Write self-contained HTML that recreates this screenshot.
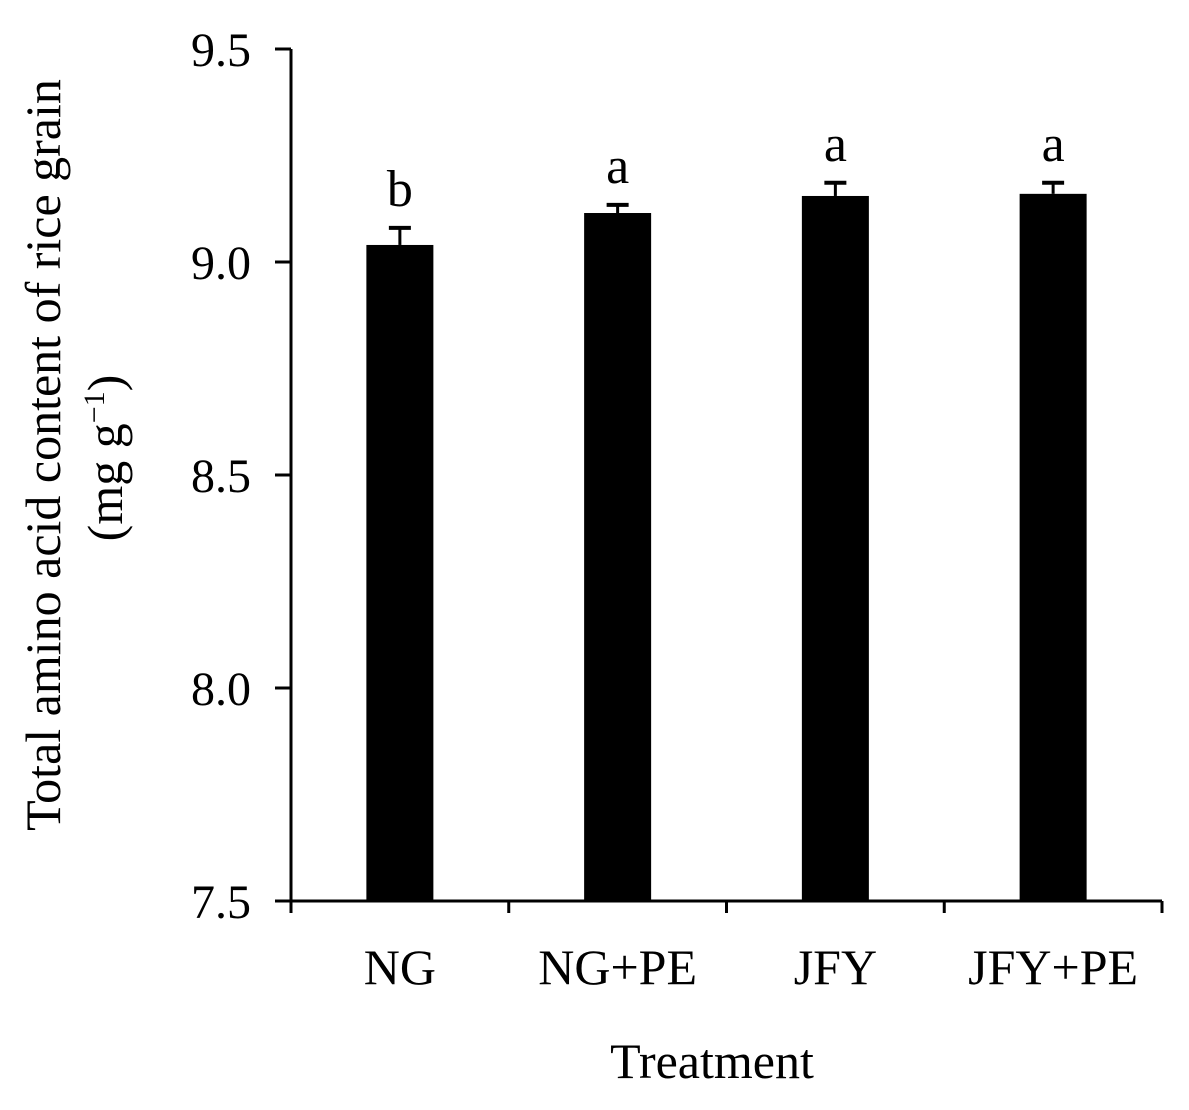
<!DOCTYPE html>
<html><head><meta charset="utf-8"><style>
html,body{margin:0;padding:0;background:#fff;}
svg{display:block;font-family:"Liberation Serif",serif;}
</style></head><body>
<svg id="chart" width="1189" height="1110" viewBox="0 0 1189 1110"></svg>
<script>
const categories = ["NG","NG+PE","JFY","JFY+PE"];
const means = [9.04, 9.115, 9.155, 9.16];
const errors = [0.04, 0.019, 0.031, 0.026];
const letters = ["b","a","a","a"];
const yTicks = [7.5, 8.0, 8.5, 9.0, 9.5];
const yTickLabels = ["7.5","8.0","8.5","9.0","9.5"];

const svg = document.getElementById('chart');
const NS = 'http://www.w3.org/2000/svg';
const L = 291, R = 1162, T = 49, B = 901, yMin = 7.5, yMax = 9.5;
const y = v => B - (v - yMin) / (yMax - yMin) * (B - T);
const band = (R - L) / categories.length;
const xc = i => L + band * (i + 0.5);
const barW = 67;
function mk(tag, attrs, text){
  const e = document.createElementNS(NS, tag);
  for (const k in attrs) e.setAttribute(k, attrs[k]);
  if (text !== undefined) e.textContent = text;
  svg.appendChild(e);
  return e;
}
categories.forEach((c, i) => {
  const b = mk('rect', {x: xc(i) - barW/2, y: y(means[i]), width: barW, height: B - y(means[i]), fill: '#000'});
  
  
  const ey = y(means[i] + errors[i]);
  const e1 = mk('line', {x1: xc(i), x2: xc(i), y1: y(means[i]), y2: ey, stroke: '#000', 'stroke-width': 3});
  
  
  const e2 = mk('line', {x1: xc(i) - 11, x2: xc(i) + 11, y1: ey, y2: ey, stroke: '#000', 'stroke-width': 4});
  
  
  const lt = mk('text', {x: xc(i), y: ey - 22, 'text-anchor': 'middle', 'font-size': 52}, letters[i]);
  
  
  const xl = mk('text', {x: xc(i), y: 984, 'text-anchor': 'middle', 'font-size': 50}, c);
  
  
});
const ya = mk('line', {x1: L, x2: L, y1: T, y2: B + 1.5, stroke: '#000', 'stroke-width': 3});


const xa = mk('line', {x1: L, x2: R, y1: B, y2: B, stroke: '#000', 'stroke-width': 3});


yTicks.forEach((v, i) => {
  const t = mk('line', {x1: L - 16, x2: L, y1: y(v), y2: y(v), stroke: '#000', 'stroke-width': 3});
  
  
  const tl = mk('text', {x: L - 40, y: y(v) + 17, 'text-anchor': 'end', 'font-size': 48}, yTickLabels[i]);
  
  
});
for (let i = 0; i <= categories.length; i++) {
  const t = mk('line', {x1: L + band * i, x2: L + band * i, y1: B, y2: B + 12, stroke: '#000', 'stroke-width': 3});
  
  
}
const xt = mk('text', {x: 712, y: 1078, 'text-anchor': 'middle', 'font-size': 50}, 'Treatment');


const yt = mk('text', {x: 0, y: 0, 'text-anchor': 'middle', 'font-size': 50, transform: 'translate(60,455) rotate(-90)'}, 'Total amino acid content of rice grain');


const yt2 = mk('text', {x: 0, y: 0, 'text-anchor': 'middle', 'font-size': 50, transform: 'translate(122,458) rotate(-90)'});


yt2.innerHTML = '(mg g<tspan font-size="30" dy="-18">−1</tspan><tspan dy="18">)</tspan>';
</script>
</body></html>
